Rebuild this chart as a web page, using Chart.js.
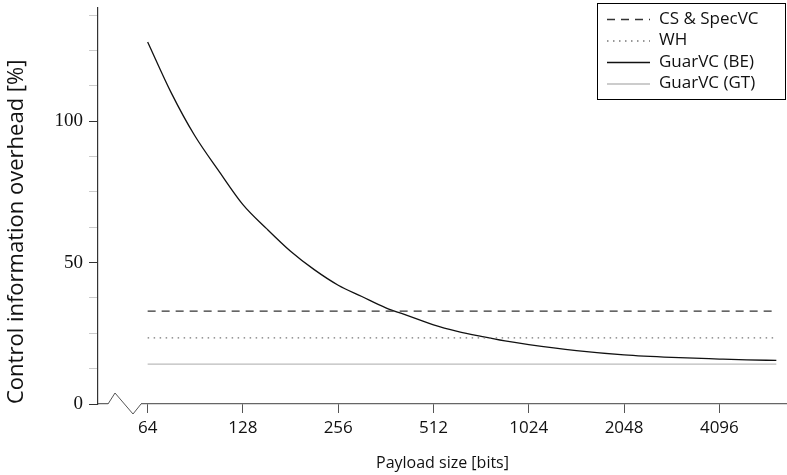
<!DOCTYPE html>
<html>
<head>
<meta charset="utf-8">
<script src="https://cdn.jsdelivr.net/npm/chart.js@4.4.1/dist/chart.umd.min.js"></script>
<style>
  html, body { margin: 0; padding: 0; background: #fff; }
  #wrap { width: 787px; height: 475px; }
</style>
</head>
<body>
<div id="wrap"><canvas id="overheadChart" width="787" height="475"></canvas></div>
<script>
// payload size [bits] against control overhead [%]
const payloadBits = [64, 76, 90, 108, 128, 152, 181, 215, 256, 304, 362, 431, 512, 609, 724, 861, 1024, 1448, 2048, 2896, 4096, 5000, 6200];
const guarBeOverhead = [128, 110, 95, 82, 70.5, 62, 54, 47.5, 42, 38, 34, 31, 28, 25.7, 23.9, 22.3, 21, 18.9, 17.4, 16.5, 15.9, 15.6, 15.4];
const flatRange = [64, 6200];
const csSpecOverhead = [32.8, 32.8];
const whOverhead = [23.4, 23.4];
const guarGtOverhead = [14.1, 14.1];
const xTickValues = [64, 128, 256, 512, 1024, 2048, 4096];
const yTickValues = [0, 12.5, 25, 37.5, 50, 62.5, 75, 87.5, 100, 112.5, 125, 137.5];
const yLabelled = [0, 50, 100];

const SANS = '"Open Sans", "DejaVu Sans", sans-serif';
const SERIF = '"Liberation Serif", "DejaVu Serif", serif';

const pairs = (xs, ys) => xs.map((x, i) => ({ x: x, y: ys[i] }));

// zigzag on the x axis near the origin (axis break)
const axisBreak = {
  id: 'axisBreak',
  afterDraw(chart) {
    const { ctx, chartArea } = chart;
    const l = chartArea.left, b = chartArea.bottom;
    ctx.save();
    ctx.fillStyle = '#fff';
    ctx.fillRect(l + 10, b - 2, 33, 4);
    ctx.strokeStyle = '#555';
    ctx.lineWidth = 1;
    ctx.beginPath();
    ctx.moveTo(l + 10, b);
    ctx.lineTo(l + 17, b - 11);
    ctx.lineTo(l + 35, b + 10);
    ctx.lineTo(l + 43, b);
    ctx.stroke();
    ctx.restore();
  }
};

// framed legend in the upper right corner
const boxLegend = {
  id: 'boxLegend',
  afterDraw(chart) {
    const { ctx } = chart;
    const sets = chart.data.datasets;
    const w = 188, rowH = 21.5;
    const x0 = chart.width - w - 2, y0 = 3;
    const h = rowH * sets.length + 10;
    ctx.save();
    ctx.fillStyle = '#fff';
    ctx.fillRect(x0, y0, w, h);
    ctx.strokeStyle = '#000';
    ctx.lineWidth = 1;
    ctx.strokeRect(x0 + 0.5, y0 + 0.5, w, h);
    ctx.font = '17px ' + SANS;
    ctx.textBaseline = 'middle';
    sets.forEach((ds, i) => {
      const cy = y0 + 16 + i * rowH;
      ctx.strokeStyle = ds.borderColor;
      ctx.lineWidth = ds.borderWidth;
      ctx.setLineDash(ds.borderDash || []);
      ctx.beginPath();
      ctx.moveTo(x0 + 10, cy + 0.5);
      ctx.lineTo(x0 + 53, cy + 0.5);
      ctx.stroke();
      ctx.setLineDash([]);
      ctx.fillStyle = '#111';
      ctx.fillText(ds.label, x0 + 62, cy);
    });
    ctx.restore();
  }
};

new Chart(document.getElementById('overheadChart'), {
  type: 'line',
  data: {
    datasets: [
      { label: 'CS & SpecVC', data: pairs(flatRange, csSpecOverhead), borderColor: '#333', borderWidth: 1.3, borderDash: [8, 6] },
      { label: 'WH', data: pairs(flatRange, whOverhead), borderColor: '#777', borderWidth: 1.3, borderDash: [1.5, 4.5] },
      { label: 'GuarVC (BE)', data: pairs(payloadBits, guarBeOverhead), borderColor: '#111', borderWidth: 1.3, cubicInterpolationMode: 'monotone' },
      { label: 'GuarVC (GT)', data: pairs(flatRange, guarGtOverhead), borderColor: '#bbb', borderWidth: 1.3 }
    ]
  },
  options: {
    responsive: false,
    animation: false,
    layout: { padding: { top: 8, right: 0, left: 0, bottom: 0 } },
    elements: { point: { radius: 0 } },
    plugins: { legend: { display: false }, tooltip: { enabled: false } },
    scales: {
      x: {
        type: 'logarithmic',
        min: 44.6,
        max: 6700,
        afterBuildTicks: s => { s.ticks = xTickValues.map(v => ({ value: v })); },
        afterFit: s => { s.height = 71; },
        ticks: { callback: v => String(v), autoSkip: false, maxRotation: 0, color: '#111', font: { family: SANS, size: 17 }, padding: 5 },
        grid: { drawOnChartArea: false, drawTicks: true, tickLength: 9, color: '#555' },
        border: { color: '#666', width: 1.2 },
        title: { display: true, text: 'Payload size [bits]', color: '#111', font: { family: SANS, size: 16 }, padding: { top: 4, bottom: 2 } }
      },
      y: {
        min: 0,
        max: 140,
        afterBuildTicks: s => { s.ticks = yTickValues.map(v => ({ value: v })); },
        afterFit: s => { s.width = 98; },
        ticks: {
          callback: v => yLabelled.includes(v) ? String(v) : '',
          font: c => ({ family: SERIF, size: c.tick && yLabelled.includes(c.tick.value) ? 19 : 2 }),
          autoSkip: false, color: '#111', padding: 6
        },
        grid: {
          drawOnChartArea: false, drawTicks: true, tickLength: 9,
          tickColor: c => yLabelled.includes(c.tick.value) ? '#333' : '#ccc'
        },
        border: { color: '#333', width: 1.2 },
        title: {
          display: true, align: 'start', text: 'Control information overhead [%]', color: '#111',
          font: { family: SANS, size: 22 }, padding: { top: 4, bottom: 4 }
        }
      }
    }
  },
  plugins: [axisBreak, boxLegend]
});
</script>
</body>
</html>
